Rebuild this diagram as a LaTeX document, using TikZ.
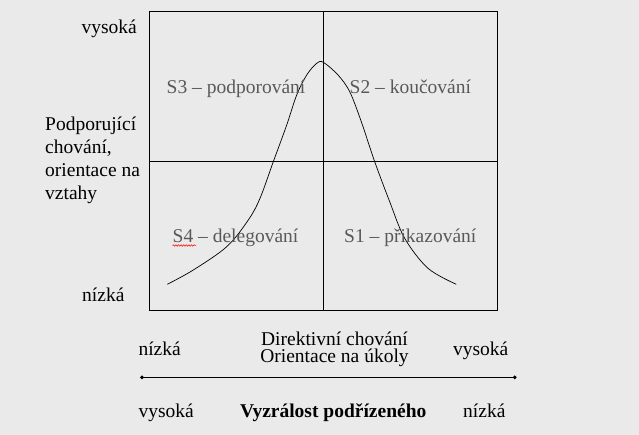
\documentclass[tikz,border=0pt]{standalone}
\usepackage{fontspec}
\setmainfont{Liberation Serif}
\usepackage{xcolor}
\usepackage{tikz}
\usetikzlibrary{arrows.meta,decorations.pathmorphing}
\definecolor{bgfill}{HTML}{EAEAEA}
\definecolor{quadtext}{HTML}{595959}

\begin{document}
\begin{tikzpicture}[x=1pt,y=-1pt,
  font=\fontsize{19.5}{23}\selectfont,
  lbl/.style={inner sep=0pt},
  quad/.style={inner sep=0pt, anchor=base west, text=quadtext}]

\useasboundingbox (0,0) rectangle (639,435);
\fill[bgfill] (0,0) rectangle (639,435);

% ---------- quadrant grid ----------
\draw[line width=0.9pt] (149,11) rectangle (497,310);
\draw[line width=0.9pt] (323.3,11) -- (323.3,310);
\draw[line width=0.9pt] (149,161) -- (497,161);

% ---------- bell curve ----------
\draw[line width=0.7pt] plot[smooth, tension=0.55] coordinates {
  (167.3,284.3) (193.3,270) (226.7,246.7) (248.3,220) (260,198.3)
  (273.3,161.7) (286.7,125) (296.7,95) (306.7,75) (316.7,63.3)
  (323.3,62.3) (338,75) (349.7,91.7) (361.3,121.7) (374.7,161.7)
  (389.7,201.7) (404.7,238.3) (428,268.3) (456.3,284.3)};

% ---------- quadrant labels ----------
\node[quad] (s3) at (166.5,94) {S3 -- podporování};
\node[quad] (s2) at (349.5,94) {S2 -- koučování};
\node[quad] (s4) at (172.5,242.5) {S4 -- delegování};
\node[quad] (s1) at (344,242.5) {S1 -- přikazování};
\draw[red, line width=0.5pt, decorate,
  decoration={snake, amplitude=0.8pt, segment length=2.6pt}]
  (172.5,245.5) -- (196,245.5);

% ---------- vertical axis ----------
\node[lbl, anchor=base east] (yhi) at (137,33.5) {vysoká};
\node[lbl, anchor=base west, align=left] (ytitle) at (45,200)
  {Podporující\\chování,\\orientace na\\vztahy};
\node[lbl, anchor=base west] (ylo) at (82,301.5) {nízká};

% ---------- horizontal axis ----------
\node[lbl, anchor=base west] (xlo) at (138.3,355) {nízká};
\node[lbl, anchor=base east] (xhi) at (508.5,355) {vysoká};
\node[lbl, anchor=base, align=center,
  font=\fontsize{19.5}{16.7}\selectfont] (xtitle) at (334.5,362.5)
  {Direktivní chování\\Orientace na úkoly};
\coordinate (axl) at (140,377.3);
\coordinate (axr) at (516.7,377.3);
\draw[line width=0.8pt, {Diamond[length=4pt,width=4pt]}-{Diamond[length=4pt,width=4pt]}]
  (axl) -- (axr);

% ---------- maturity row ----------
\node[lbl, anchor=base west] (mhi) at (138.3,417) {vysoká};
\node[lbl, anchor=base west, font=\fontsize{19.5}{23}\selectfont\bfseries] (mtitle)
  at (240,417) {Vyzrálost podřízeného};
\node[lbl, anchor=base west] (mlo) at (463,417) {nízká};
\end{tikzpicture}
\end{document}
